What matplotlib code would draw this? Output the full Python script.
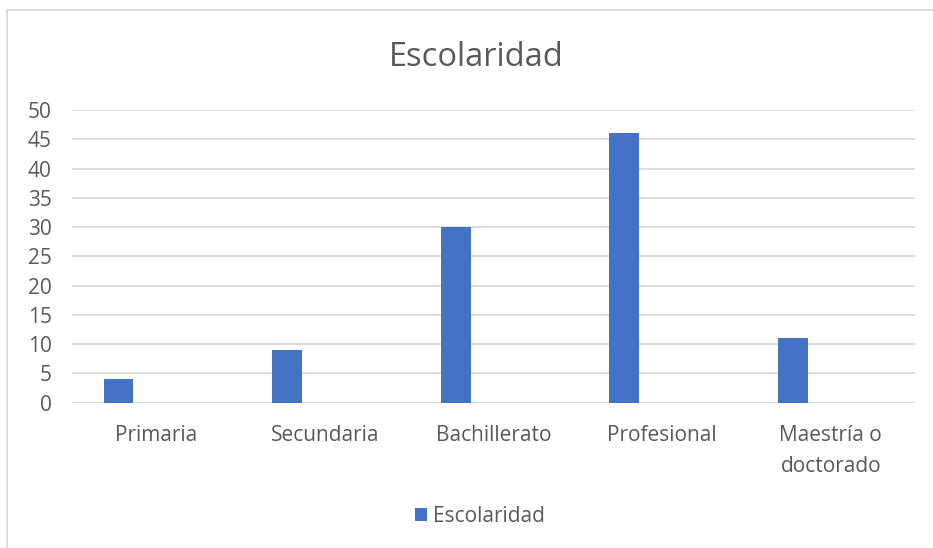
import matplotlib

matplotlib.use('Agg')
import matplotlib.pyplot as plt
import numpy as np
from matplotlib.patches import Rectangle

categories = ["Primaria", "Secundaria", "Bachillerato", "Profesional", "Maestría o\ndoctorado"]
values = [4, 9, 30, 46, 11]
series_name = "Escolaridad"
yticks = [0, 5, 10, 15, 20, 25, 30, 35, 40, 45, 50]

W, H = 933, 548
bar_color = "#4472C4"
text_color = "#595959"
grid_color = "#D9D9D9"
fs = 15

plt.rcParams['font.family'] = ['Open Sans', 'DejaVu Sans']

fig = plt.figure(figsize=(W / 100, H / 100), dpi=100)

# outer chart frame
fig.patches.append(Rectangle((7 / W, -0.1), 1.2, 1.1 - 10 / H, transform=fig.transFigure,
                             fill=False, edgecolor=grid_color, linewidth=1.3))

ax = fig.add_axes([72 / W, 1 - 402.7 / H, (915 - 72) / W, (402.7 - 110) / H])

x = np.arange(len(categories))
ax.bar(x - 0.224, values, width=0.176, color=bar_color, label=series_name, zorder=3)

ax.set_xlim(-0.5, len(categories) - 0.5)
ax.set_ylim(0, 50)
ax.set_yticks(yticks)
ax.set_xticks(x)
ax.set_xticklabels(categories, linespacing=1.62)
ax.tick_params(axis='both', length=0, labelsize=fs, labelcolor=text_color)
ax.tick_params(axis='y', pad=14.5)
ax.tick_params(axis='x', pad=16)
ax.yaxis.grid(True, color=grid_color, linewidth=1.3, zorder=0)
for s in ax.spines.values():
    s.set_visible(False)

fig.text(476 / W, 1 - 58 / H, "Escolaridad", ha='center', va='center',
         fontsize=23.5, color=text_color)

fig.legend(loc='center', bbox_to_anchor=(480 / W, 1 - 516 / H), frameon=False,
           fontsize=fs, labelcolor=text_color, handlelength=0.6, handleheight=0.6,
           handletextpad=0.3)

fig.savefig("out.png", dpi=100)
